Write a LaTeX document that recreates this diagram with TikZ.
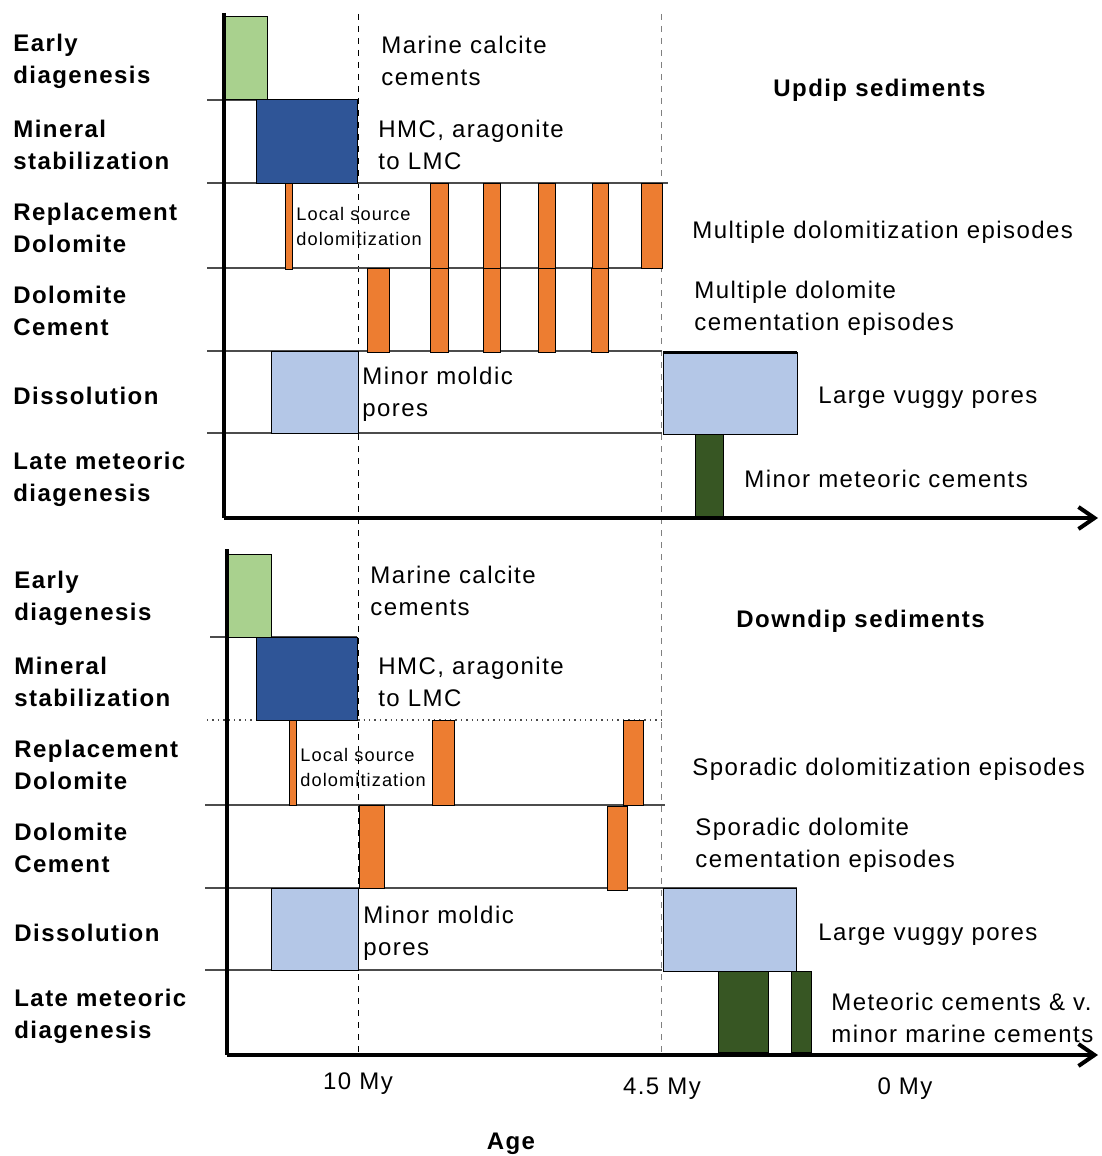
\documentclass[tikz,border=0pt]{standalone}
\usepackage{fontspec}
\setmainfont[LetterSpace=6]{Liberation Sans}
\usetikzlibrary{arrows.meta}

\definecolor{earlygreen}{HTML}{A9D18E}
\definecolor{stabblue}{HTML}{2F5597}
\definecolor{dolorange}{HTML}{ED7D31}
\definecolor{porebblue}{HTML}{B4C7E7}
\definecolor{meteogreen}{HTML}{375623}

\begin{document}
\begin{tikzpicture}[x=0.5pt,y=-0.5pt,>={Straight Barb[length=8pt,width=11pt]},
                    row label/.style={anchor=west,align=left,inner sep=0pt,
                      font=\bfseries\fontsize{12}{16}\selectfont},
                    note/.style={anchor=west,align=left,inner sep=0pt,
                      font=\fontsize{12}{16}\selectfont},
                    small note/.style={note,font=\fontsize{9.1}{12.5}\selectfont},
                    bar/.style={draw=black,line width=0.5pt},
                    row line/.style={draw=black!70,line width=0.7pt},
                    axis/.style={line width=2pt}]
  \useasboundingbox (0,0) rectangle (1102,1156);

  % time lines
  \coordinate (t10 top) at (358,14);
  \coordinate (t10 bot) at (358,1053);
  \coordinate (t45 top) at (661,14);
  \coordinate (t45 bot) at (661,1053);
  \draw[dashed,line width=0.5pt] (t10 top) -- (t10 bot);
  \draw[dashed,line width=0.5pt,gray] (t45 top) -- (t45 bot);

  % updip rows
  \draw[row line] (207,100) -- (357,100);
  \draw[row line] (207,183) -- (668,183);
  \draw[row line] (207,268) -- (662,268);
  \draw[row line] (207,351) -- (662,351);
  \draw[row line] (207,433) -- (662,433);

  \draw[bar,fill=earlygreen] (224,17) rectangle (267,100);
  \draw[bar,fill=stabblue] (256,100) rectangle (357,183);
  \draw[bar,fill=dolorange] (285,183) rectangle (292,269);
  \foreach \a/\b in {430/448,483/500,538/555,592/608,641/662}
    \draw[bar,fill=dolorange] (\a,183) rectangle (\b,268);
  \foreach \a/\b in {367/389,430/448,483/500,538/555,591/608}
    \draw[bar,fill=dolorange] (\a,268) rectangle (\b,352);
  \draw[bar,fill=porebblue] (271,351) rectangle (358,433);
  \draw[bar,fill=porebblue] (663,352) rectangle (797,434);
  \draw[line width=1.5pt] (663,352) -- (797,352);
  \draw[bar,fill=meteogreen] (695,434) rectangle (723,517);

  % downdip rows
  \draw[row line] (210,637) -- (357,637);
  \draw[row line,dotted] (207,720) -- (662,720);
  \draw[row line] (205,805) -- (665,805);
  \draw[row line] (205,888) -- (797,888);
  \draw[row line] (205,970) -- (662,970);

  \draw[bar,fill=earlygreen] (228,554) rectangle (271,637);
  \draw[bar,fill=stabblue] (256,637) rectangle (357,720);
  \draw[bar,fill=dolorange] (289,720) rectangle (296,805);
  \draw[bar,fill=dolorange] (432,720) rectangle (454,805);
  \draw[bar,fill=dolorange] (623,720) rectangle (643,805);
  \draw[bar,fill=dolorange] (359,805) rectangle (384,888);
  \draw[bar,fill=dolorange] (607,806) rectangle (627,890);
  \draw[bar,fill=porebblue] (271,888) rectangle (358,970);
  \draw[bar,fill=porebblue] (663,888) rectangle (796,971);
  \draw[bar,fill=meteogreen] (718,971) rectangle (768,1052);
  \draw[bar,fill=meteogreen] (791,971) rectangle (811,1052);

  % axes
  \coordinate (up top) at (224,13);
  \coordinate (up origin) at (224,518);
  \coordinate (up end) at (1098,518);
  \coordinate (down top) at (227,549);
  \coordinate (down origin) at (227,1055);
  \coordinate (down end) at (1098,1055);
  \draw[axis] (up top) -- (up origin);
  \draw[axis,->] (up origin) -- (up end);
  \draw[axis] (down top) -- (down origin);
  \draw[axis,->] (down origin) -- (down end);

  % updip labels
  \node[row label] (up early) at (13,61) {Early\\diagenesis};
  \node[row label] (up stab) at (13,145) {Mineral\\stabilization};
  \node[row label] (up repl) at (13,228) {Replacement\\Dolomite};
  \node[row label] (up cem) at (13,311) {Dolomite\\Cement};
  \node[row label] (up diss) at (13,396) {Dissolution};
  \node[row label] (up late) at (13,479) {Late meteoric\\diagenesis};

  \node[note] (up marine) at (381,61) {Marine calcite\\cements};
  \node[note] (up hmc) at (378,145) {HMC, aragonite\\to LMC};
  \node[small note] (up local) at (296,226) {Local source\\dolomitization};
  \node[note] (up multi) at (692,232) {Multiple dolomitization episodes};
  \node[note] (up multicem) at (694,308) {Multiple dolomite\\cementation episodes};
  \node[note] (up moldic) at (362,394) {Minor moldic\\pores};
  \node[note] (up vuggy) at (818,398) {Large vuggy pores};
  \node[note] (up meteo) at (744,479) {Minor meteoric cements};
  \node[row label] (updip) at (773,90) {Updip sediments};

  % downdip labels
  \node[row label] (down early) at (14,598) {Early\\diagenesis};
  \node[row label] (down stab) at (14,682) {Mineral\\stabilization};
  \node[row label] (down repl) at (14,765) {Replacement\\Dolomite};
  \node[row label] (down cem) at (14,848) {Dolomite\\Cement};
  \node[row label] (down diss) at (14,933) {Dissolution};
  \node[row label] (down late) at (14,1016) {Late meteoric\\diagenesis};

  \node[note] (down marine) at (370,591) {Marine calcite\\cements};
  \node[note] (down hmc) at (378,682) {HMC, aragonite\\to LMC};
  \node[small note] (down local) at (300,767) {Local source\\dolomitization};
  \node[note] (down spor) at (692,769) {Sporadic dolomitization episodes};
  \node[note] (down sporcem) at (695,845) {Sporadic dolomite\\cementation episodes};
  \node[note] (down moldic) at (363,933) {Minor moldic\\pores};
  \node[note] (down vuggy) at (818,935) {Large vuggy pores};
  \node[note] (down meteo) at (831,1018) {Meteoric cements \& v.\\minor marine cements};
  \node[row label] (downdip) at (736,621) {Downdip sediments};

  % age axis
  \node[note,anchor=center] (age 10) at (358,1084) {10 My};
  \node[note,anchor=center] (age 45) at (662,1089) {4.5 My};
  \node[note,anchor=center] (age 0) at (905,1089) {0 My};
  \node[row label,anchor=center] (age) at (511,1144) {Age};
\end{tikzpicture}
\end{document}
